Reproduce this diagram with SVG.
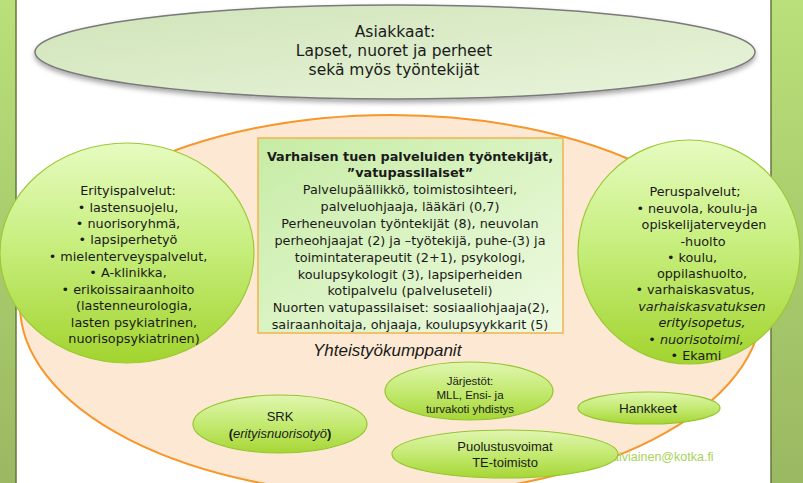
<svg xmlns="http://www.w3.org/2000/svg" width="803" height="483" viewBox="0 0 803 483">
<defs>
<linearGradient id="bar" x1="0" y1="0" x2="0" y2="1">
<stop offset="0" stop-color="#b9e07a"/><stop offset="0.5" stop-color="#a9cc6c"/><stop offset="1" stop-color="#9bb862"/>
</linearGradient>
<linearGradient id="top" x1="0" y1="0" x2="1" y2="1">
<stop offset="0" stop-color="#cfe4b8"/><stop offset="1" stop-color="#eaf4dc"/>
</linearGradient>
<linearGradient id="ball" x1="0" y1="0" x2="0" y2="1">
<stop offset="0" stop-color="#e6fbc0"/><stop offset="0.45" stop-color="#c8ef80"/><stop offset="1" stop-color="#a2d42e"/>
</linearGradient>
<linearGradient id="pill" x1="0" y1="0" x2="0" y2="1">
<stop offset="0" stop-color="#e0f6b0"/><stop offset="0.5" stop-color="#c4ea72"/><stop offset="1" stop-color="#a6d634"/>
</linearGradient>
<linearGradient id="box" x1="0" y1="0" x2="1" y2="1">
<stop offset="0" stop-color="#c6eca4"/><stop offset="1" stop-color="#eefae2"/>
</linearGradient>
<filter id="sh" x="-10%" y="-20%" width="120%" height="150%">
<feDropShadow dx="0" dy="3" stdDeviation="2.5" flood-color="#000" flood-opacity="0.35"/>
</filter>
</defs>
<style>
text{font-family:"Liberation Sans",Arial,sans-serif;fill:#1a1a1a;}
.t{font-family:"DejaVu Sans","Liberation Sans",sans-serif;font-size:12.8px;text-anchor:middle;}
.s{font-size:11.5px;text-anchor:middle;}
.m{font-size:13px;text-anchor:middle;}
.b{font-weight:bold;}
.i{font-style:italic;}
.ball{fill:url(#ball);stroke:#9cc936;stroke-width:1.2;}
.pill{fill:url(#pill);stroke:#95c530;stroke-width:1.2;}
</style>
<rect x="0" y="0" width="803" height="483" fill="#ffffff"/>
<g id="bars">
<rect x="0" y="0" width="16" height="483" fill="url(#bar)"/>
<line x1="16" y1="0" x2="16" y2="483" stroke="#66773c" stroke-width="1.5"/>
<rect x="771" y="0" width="32" height="483" fill="url(#bar)"/>
<line x1="771" y1="0" x2="771" y2="483" stroke="#66773c" stroke-width="1.5"/>
</g>
<g id="asiakkaat">
<ellipse cx="395" cy="52" rx="360" ry="47" fill="url(#top)" stroke="#7a7a7a" stroke-width="1.5" filter="url(#sh)"/>
<text class="t" x="395" y="37" style="font-size:15.5px">Asiakkaat:</text>
<text class="t" x="394" y="56" style="font-size:15.5px">Lapset, nuoret ja perheet</text>
<text class="t" x="394" y="75" style="font-size:15.5px">sekä myös työntekijät</text>
</g>
<g id="yhteistyo">
<ellipse cx="391" cy="305" rx="371" ry="190" fill="#fde9d3" stroke="#f7962a" stroke-width="2"/>
<text x="313" y="356" class="i" style="font-size:17px">Yhteistyökumppanit</text>
<text x="612" y="461" style="font-size:12.5px;fill:#a9d25a">alviainen@kotka.fi</text>
</g>
<g id="erityispalvelut">
<ellipse class="ball" cx="127" cy="253" rx="127" ry="110"/>
<text class="t" x="128" y="195">Erityispalvelut:</text>
<text class="t" x="128" y="212">•  lastensuojelu,</text>
<text class="t" x="128" y="228">•  nuorisoryhmä,</text>
<text class="t" x="128" y="244">•  lapsiperhetyö</text>
<text class="t" x="128" y="261">•  mielenterveyspalvelut,</text>
<text class="t" x="128" y="277">•  A-klinikka,</text>
<text class="t" x="128" y="294">•  erikoissairaanhoito</text>
<text class="t" x="134" y="310">(lastenneurologia,</text>
<text class="t" x="134" y="327">lasten psykiatrinen,</text>
<text class="t" x="134" y="343">nuorisopsykiatrinen)</text>
</g>
<g id="peruspalvelut">
<ellipse class="ball" cx="689" cy="252" rx="111" ry="112"/>
<text class="t" x="695" y="196">Peruspalvelut;</text>
<text class="t" x="697" y="213">•  neuvola, koulu-ja</text>
<text class="t" x="704" y="229">opiskelijaterveyden</text>
<text class="t" x="703" y="246">-huolto</text>
<text class="t" x="692" y="262">•  koulu,</text>
<text class="t" x="702" y="278">oppilashuolto,</text>
<text class="t" x="695" y="294">•  varhaiskasvatus,</text>
<text class="t i" x="702" y="311">varhaiskasvatuksen</text>
<text class="t i" x="702" y="327">erityisopetus,</text>
<text class="t" x="696" y="344">•  <tspan class="i">nuorisotoimi,</tspan></text>
<text class="t" x="696" y="360">•  Ekami</text>
</g>
<g id="vatupassilaiset">
<rect x="258" y="138" width="305" height="195" fill="url(#box)" stroke="#f2b24e" stroke-width="1.5"/>
<text class="t b" x="410" y="161">Varhaisen tuen  palveluiden työntekijät,</text>
<text class="t b" x="410" y="177">”vatupassilaiset”</text>
<text class="t" x="410" y="194">Palvelupäällikkö, toimistosihteeri,</text>
<text class="t" x="410" y="211">palveluohjaaja, lääkäri (0,7)</text>
<text class="t" x="410" y="228">Perheneuvolan työntekijät (8), neuvolan</text>
<text class="t" x="410" y="245">perheohjaajat (2) ja –työtekijä, puhe-(3) ja</text>
<text class="t" x="410" y="262">toimintaterapeutit (2+1), psykologi,</text>
<text class="t" x="410" y="279">koulupsykologit (3), lapsiperheiden</text>
<text class="t" x="410" y="295">kotipalvelu (palveluseteli)</text>
<text class="t" x="411" y="312">Nuorten vatupassilaiset: sosiaaliohjaaja(2),</text>
<text class="t" x="410" y="329">sairaanhoitaja, ohjaaja, koulupsyykkarit (5)</text>
</g>
<g id="jarjestot">
<ellipse class="pill" cx="469" cy="391" rx="84" ry="29"/>
<text class="s" x="470" y="385">Järjestöt:</text>
<text class="s" x="470" y="399">MLL, Ensi- ja</text>
<text class="s" x="470" y="413">turvakoti yhdistys</text>
</g>
<g id="srk">
<ellipse class="pill" cx="280" cy="424" rx="87" ry="29"/>
<text class="m" x="280" y="421">SRK</text>
<text class="m" x="280" y="438"><tspan class="b">(</tspan><tspan class="i">erityisnuorisotyö</tspan><tspan class="b">)</tspan></text>
</g>
<g id="hankkeet">
<ellipse class="pill" cx="649" cy="408" rx="71" ry="16"/>
<text class="m" x="648" y="413" style="font-size:13.5px">Hankkee<tspan class="b">t</tspan></text>
</g>
<g id="puolustusvoimat">
<ellipse class="pill" cx="505" cy="454" rx="113" ry="24"/>
<text class="m" x="505" y="451">Puolustusvoimat</text>
<text class="m" x="505" y="467">TE-toimisto</text>
</g>
<g id="connectors"></g>
</svg>
